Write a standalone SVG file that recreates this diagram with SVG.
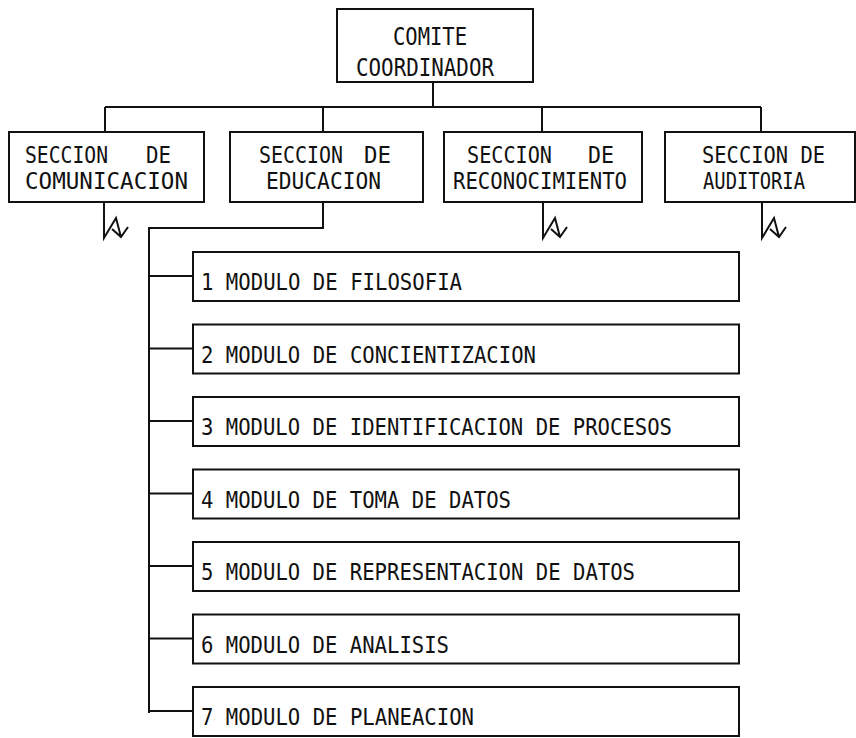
<svg xmlns="http://www.w3.org/2000/svg" width="856" height="738" viewBox="0 0 856 738">
<style>
.box{fill:#fff;stroke:#111;stroke-width:2}
.ln{fill:none;stroke:#111;stroke-width:2;stroke-linejoin:miter}
.t{font-family:"DejaVu Sans Mono","Liberation Mono",monospace;fill:#111}
.top{font-size:24px}
.big{font-size:23px}
.mod{font-size:23px}
</style>
<rect width="856" height="738" fill="#fff"/>
<g id="connectors">
<path class="ln" d="M433,82 V107 M105,107 H761 M105,107 V132 M323,107 V132 M542,107 V132 M761,107 V132"/>
<path class="ln" d="M323,202 V228 H149 V713"/>
<path class="ln" d="M149,276 H193 M149,348.5 H193 M149,421 H193 M149,493.5 H193 M149,566 H193 M149,638.5 H193 M149,711 H193"/>
<path class="ln" d="M104,202 V238 L116,218 L121,237 M112,229 L121,237 L128,227"/>
<path class="ln" d="M543,202 V238 L555,218 L560,237 M551,229 L560,237 L567,227"/>
<path class="ln" d="M762,202 V238 L774,218 L779,237 M770,229 L779,237 L786,227"/>
</g>
<g id="comite">
<rect class="box" x="337" y="9" width="196" height="73"/>
<text class="t top" x="393" y="45" textLength="74" lengthAdjust="spacingAndGlyphs">COMITE</text>
<text class="t top" x="356" y="76" textLength="138" lengthAdjust="spacingAndGlyphs">COORDINADOR</text>
</g>
<g id="comunicacion">
<rect class="box" x="9" y="132" width="195" height="70"/>
<text class="t big" x="25" y="163" textLength="83" lengthAdjust="spacingAndGlyphs">SECCION</text>
<text class="t big" x="146" y="163" textLength="25" lengthAdjust="spacingAndGlyphs">DE</text>
<text class="t big" x="25" y="189" textLength="163" lengthAdjust="spacingAndGlyphs">COMUNICACION</text>
</g>
<g id="educacion">
<rect class="box" x="230" y="132" width="193" height="70"/>
<text class="t big" x="259" y="163" textLength="84" lengthAdjust="spacingAndGlyphs">SECCION</text>
<text class="t big" x="364" y="163" textLength="27" lengthAdjust="spacingAndGlyphs">DE</text>
<text class="t big" x="266" y="189" textLength="115" lengthAdjust="spacingAndGlyphs">EDUCACION</text>
</g>
<g id="reconocimiento">
<rect class="box" x="444" y="132" width="198" height="70"/>
<text class="t big" x="467" y="163" textLength="85" lengthAdjust="spacingAndGlyphs">SECCION</text>
<text class="t big" x="588" y="163" textLength="26" lengthAdjust="spacingAndGlyphs">DE</text>
<text class="t big" x="453" y="189" textLength="174" lengthAdjust="spacingAndGlyphs">RECONOCIMIENTO</text>
</g>
<g id="auditoria">
<rect class="box" x="665" y="132" width="190" height="70"/>
<text class="t big" x="702" y="163" textLength="123" lengthAdjust="spacingAndGlyphs">SECCION DE</text>
<text class="t big" x="703" y="189" textLength="102" lengthAdjust="spacingAndGlyphs">AUDITORIA</text>
</g>
<g id="m1"><rect class="box" x="193" y="252" width="546" height="49"/><text class="t mod" x="201" y="290" textLength="261" lengthAdjust="spacingAndGlyphs">1 MODULO DE FILOSOFIA</text></g>
<g id="m2"><rect class="box" x="193" y="324.5" width="546" height="49"/><text class="t mod" x="201" y="362.5" textLength="335" lengthAdjust="spacingAndGlyphs">2 MODULO DE CONCIENTIZACION</text></g>
<g id="m3"><rect class="box" x="193" y="397" width="546" height="49"/><text class="t mod" x="201" y="435" textLength="471" lengthAdjust="spacingAndGlyphs">3 MODULO DE IDENTIFICACION DE PROCESOS</text></g>
<g id="m4"><rect class="box" x="193" y="469.5" width="546" height="49"/><text class="t mod" x="201" y="507.5" textLength="310" lengthAdjust="spacingAndGlyphs">4 MODULO DE TOMA DE DATOS</text></g>
<g id="m5"><rect class="box" x="193" y="542" width="546" height="49"/><text class="t mod" x="201" y="580" textLength="434" lengthAdjust="spacingAndGlyphs">5 MODULO DE REPRESENTACION DE DATOS</text></g>
<g id="m6"><rect class="box" x="193" y="614.5" width="546" height="49"/><text class="t mod" x="201" y="652.5" textLength="248" lengthAdjust="spacingAndGlyphs">6 MODULO DE ANALISIS</text></g>
<g id="m7"><rect class="box" x="193" y="687" width="546" height="49"/><text class="t mod" x="201" y="725" textLength="273" lengthAdjust="spacingAndGlyphs">7 MODULO DE PLANEACION</text></g>
</svg>
